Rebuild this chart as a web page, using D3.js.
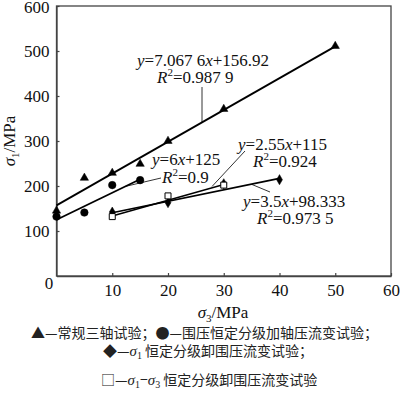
<!DOCTYPE html>
<html><head><meta charset="utf-8">
<script src="https://cdn.jsdelivr.net/npm/d3@7"></script>
<style>body{margin:0;background:#fff}svg{display:block}</style>
</head><body>
<script>
// ---- data ----
const triX = [0, 5, 10, 15, 20, 30, 50];
const triY = [145, 218, 229, 249, 300, 371, 511];
const cirX = [0, 5, 10, 15];
const cirY = [132, 141, 202, 213];
const diaX = [10, 20, 30, 40];
const diaY = [142, 163, 205, 214];
const sqX = [10, 20, 30];
const sqY = [132, 178, 202];
// fitted lines: [slope, intercept, xStart, xEnd]
const fitTri = [7.0676, 156.92, 0, 50];
const fitCir = [6, 125, 0, 15];
const fitDia = [2.55, 115, 10, 40];
const fitSq = [3.5, 98.333, 10, 30];
const xTicks = [10, 20, 30, 40, 50, 60];
const yTicks = [100, 200, 300, 400, 500, 600];

const W = 400, H = 395;
const svg = d3.select("body").append("svg").attr("width", W).attr("height", H);
const x = d3.scaleLinear().domain([0, 60]).range([56.5, 391]);
const y = d3.scaleLinear().domain([0, 600]).range([276, 6]);
const serif = "'Liberation Serif','Times New Roman',serif";
const axisCol = "#444";

// frame
svg.append("rect").attr("x", x(0)).attr("y", y(600)).attr("width", x(60) - x(0)).attr("height", y(0) - y(600))
  .attr("fill", "none").attr("stroke", axisCol).attr("stroke-width", 1.3);

const xa = svg.append("g").attr("transform", `translate(0,${y(0)})`)
  .call(d3.axisBottom(x).tickValues(xTicks).tickSizeInner(-3).tickSizeOuter(0).tickPadding(8));
const ya = svg.append("g").attr("transform", `translate(${x(0)},0)`)
  .call(d3.axisLeft(y).tickValues(yTicks).tickSizeInner(-3).tickSizeOuter(0).tickPadding(6));
[xa, ya].forEach(g => {
  g.select(".domain").attr("stroke", axisCol).attr("stroke-width", 1.3);
  g.selectAll(".tick line").attr("stroke", axisCol).attr("stroke-width", 1.2);
  g.selectAll(".tick text").attr("font-family", serif).attr("font-size", 17).attr("fill", "#111");
});
ya.selectAll(".tick text").attr("x", -7);
ya.selectAll(".tick text").filter(d => d === 600).attr("dy", "0.38em");
svg.append("text").attr("x", 49).attr("y", 289).attr("text-anchor", "middle")
  .attr("font-family", serif).attr("font-size", 17).attr("fill", "#111").text("0");

// fit lines
function fitLine(f, w) {
  svg.append("line").attr("x1", x(f[2])).attr("y1", y(f[0] * f[2] + f[1]))
    .attr("x2", x(f[3])).attr("y2", y(f[0] * f[3] + f[1]))
    .attr("stroke", "#000").attr("stroke-width", w);
}
fitLine(fitTri, 1.8);
fitLine(fitCir, 1.8);
fitLine(fitDia, 1.6);
fitLine(fitSq, 1.4);

// markers
const sym = (type, size) => d3.symbol().type(type).size(size)();
function pts(xs, ys, type, size, fill) {
  svg.append("g").selectAll("path").data(xs).join("path")
    .attr("transform", (d, i) => `translate(${x(d)},${y(ys[i])})`)
    .attr("d", sym(type, size)).attr("fill", fill).attr("stroke", "#000").attr("stroke-width", fill === "#fff" ? 1 : 0.5);
}
pts(triX, triY, d3.symbolTriangle, 30, "#000");
pts(cirX, cirY, d3.symbolCircle, 45, "#000");
pts(diaX, diaY, d3.symbolDiamond, 30, "#000");
pts(sqX, sqY, d3.symbolSquare, 36, "#fff");

// annotations
function eq(xp, yp, parts) {
  const t = svg.append("text").attr("x", xp).attr("y", yp).attr("font-family", serif)
    .attr("font-size", 17).attr("fill", "#111");
  parts.forEach(p => {
    const s = t.append("tspan").text(p[0]);
    if (p[1] === "i") s.attr("font-style", "italic");
    if (p[1] === "sup") s.attr("font-size", 11).attr("dy", -7);
    if (p[1] === "after") s.attr("dy", 7);
  });
}
function eqR(xp, yp, val) {
  eq(xp, yp, [["R", "i"], ["2", "sup"], ["=" + val, "after"]]);
}
eq(137, 66, [["y", "i"], ["=7.067 6"], ["x", "i"], ["+156.92"]]);
eqR(157, 83, "0.987 9");
eq(152, 165, [["y", "i"], ["=6"], ["x", "i"], ["+125"]]);
eqR(162, 183, "0.9");
eq(238, 150, [["y", "i"], ["=2.55"], ["x", "i"], ["+115"]]);
eqR(253, 167, "0.924");
eq(243, 207, [["y", "i"], ["=3.5"], ["x", "i"], ["+98.333"]]);
eqR(257, 224, "0.973 5");

// leader lines
const leaders = [[202, 87, 202, 122], [161, 178, 125, 186.5], [245, 151, 212, 186.5], [270, 192, 252, 184.5]];
svg.append("g").selectAll("line").data(leaders).join("line")
  .attr("x1", d => d[0]).attr("y1", d => d[1]).attr("x2", d => d[2]).attr("y2", d => d[3])
  .attr("stroke", "#000").attr("stroke-width", 0.8);

// axis titles
const xt = svg.append("text").attr("x", 223).attr("y", 318).attr("text-anchor", "middle")
  .attr("font-family", serif).attr("font-size", 17).attr("fill", "#111");
xt.append("tspan").attr("font-style", "italic").text("σ");
xt.append("tspan").attr("font-size", 11).attr("dy", 4).text("3");
xt.append("tspan").attr("dy", -4).text("/MPa");
const yt = svg.append("text").attr("transform", "translate(15,141) rotate(-90)").attr("text-anchor", "middle")
  .attr("font-family", serif).attr("font-size", 17).attr("fill", "#111");
yt.append("tspan").attr("font-style", "italic").text("σ");
yt.append("tspan").attr("font-size", 11).attr("dy", 4).text("1");
yt.append("tspan").attr("dy", -4).text("/MPa");

// legend
const cjk = "'Noto Sans CJK SC','Noto Sans CJK JP',sans-serif";
function legLine(xp, yp, parts) {
  const t = svg.append("text").attr("x", xp).attr("y", yp).attr("font-family", cjk)
    .attr("font-size", 14).attr("fill", "#222").attr("text-anchor", "start");
  parts.forEach(p => {
    const s = t.append("tspan").text(p[0]);
    if (p[1] === "s") s.attr("font-family", serif).attr("font-style", "italic").attr("font-size", 15);
    if (p[1] === "sub") s.attr("font-family", serif).attr("font-size", 10).attr("dy", 3);
    if (p[1] === "back") s.attr("dy", -3);
  });
}
legLine(31, 338, [["▲—常规三轴试验；●—围压恒定分级加轴压流变试验；"]]);
legLine(103, 356, [["◆—"], ["σ", "s"], ["1", "sub"], [" 恒定分级卸围压流变试验；", "back"]]);
legLine(101, 385, [["□—"], ["σ", "s"], ["1", "sub"], ["−", "back"], ["σ", "s"], ["3", "sub"], [" 恒定分级卸围压流变试验", "back"]]);
</script>
</body></html>
